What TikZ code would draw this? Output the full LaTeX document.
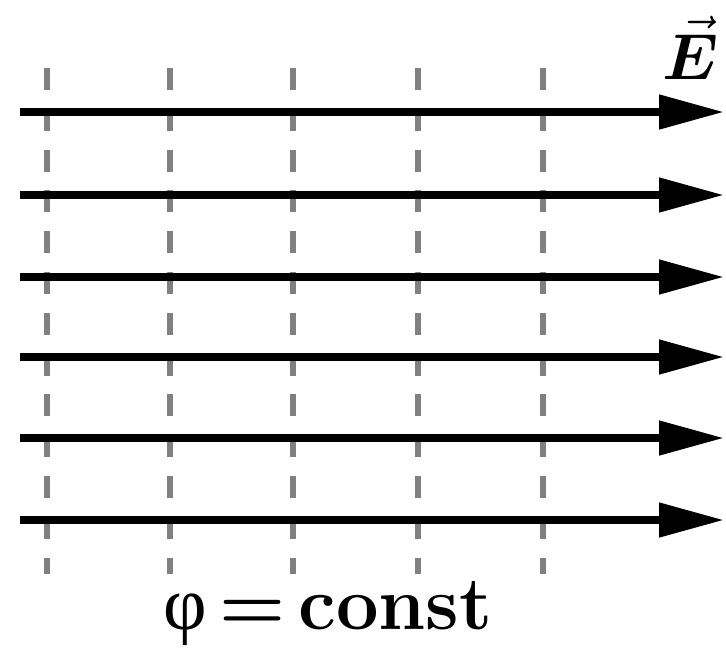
\RequirePackage{fix-cm}
\documentclass[tikz,border=0pt]{standalone}
\usepackage{fontspec}
\usepackage{bm}
\usetikzlibrary{arrows.meta}
\newfontfamily\grkfont{Liberation Serif}
\tikzset{
  efield/.style={line width=4.5pt, -{Triangle[length=1.3cm,width=0.66cm]}},
  equip/.style={line width=3.2pt, black!50, dash pattern=on 0.44cm off 0.376cm},
  lbl/.style={inner sep=0pt, font=\fontsize{43}{50}\selectfont}
}
\begin{document}
\begin{tikzpicture}[x=0.02cm,y=-0.02cm]
\useasboundingbox (0,0) rectangle (726,657);
% equipotential lines
\foreach \i/\xx in {1/47,2/170,3/293,4/418,5/543}{
  \coordinate (T\i) at (\xx,68);
  \coordinate (B\i) at (\xx,574);
  \draw[equip] (T\i) -- (B\i);
}
% field lines
\foreach \j/\yy in {1/112,2/195,3/277,4/357,5/438,6/520}{
  \coordinate (L\j) at (20,\yy);
  \coordinate (R\j) at (724,\yy);
  \draw[efield] (L\j) -- (R\j);
}
\node[lbl, font=\fontsize{37}{44}\selectfont] (E) at (691,48) {$\vec{\bm{E}}$};
\node[lbl] (phi) at (328,614) {{\grkfont φ}\,$\bm{=}$\,\textbf{const}};
\end{tikzpicture}
\end{document}
